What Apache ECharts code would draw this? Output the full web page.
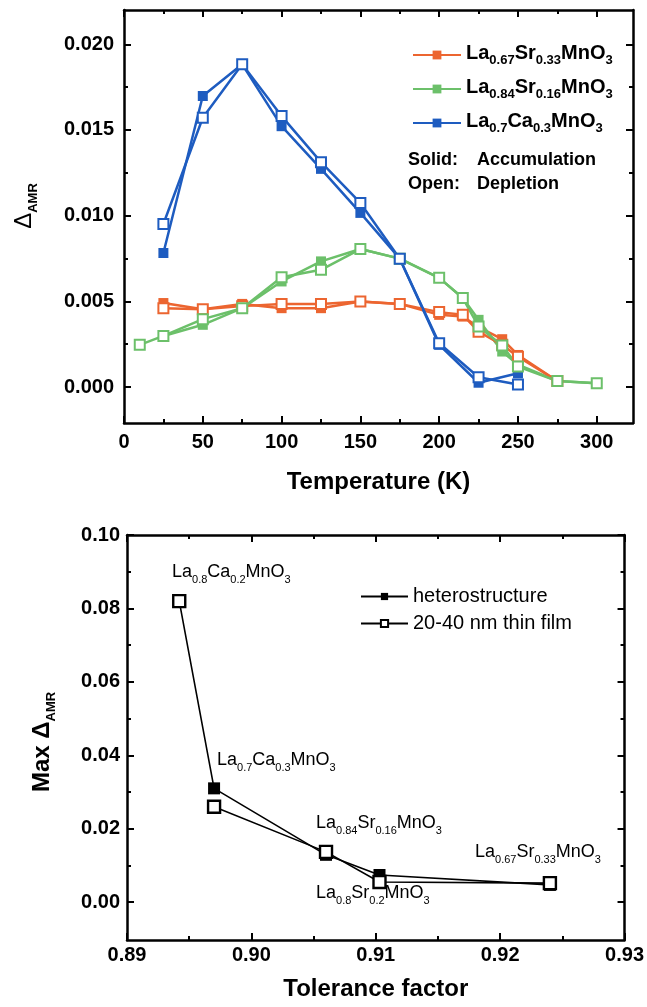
<!DOCTYPE html>
<html><head><meta charset="utf-8">
<script src="https://cdn.jsdelivr.net/npm/echarts@6/dist/echarts.min.js"></script>
<style>html,body{margin:0;padding:0;background:#fff}#c{width:647px;height:1007px}</style>
</head><body><div id="c"></div>
<script>
// ---------- Top panel: Delta_AMR vs temperature ----------
const tempLSMO33 = [25, 50, 75, 100, 125, 150, 175, 200, 215, 225, 240, 250, 275];
const lsmo33Acc  = [0.0049, 0.00454, 0.00485, 0.0046, 0.0046, 0.00499, 0.00485, 0.00421, 0.00411, 0.0035, 0.00279, 0.00187, 0.00035];
const lsmo33Dep  = [0.0046, 0.00454, 0.00472, 0.00484, 0.00484, 0.00499, 0.00485, 0.00437, 0.00421, 0.00323, 0.00246, 0.00177, 0.00035];

const tempLSMO16Acc = [25, 50, 75, 100, 125, 150, 175, 200, 215, 225, 240, 250, 275, 300];
const lsmo16Acc     = [0.00298, 0.00363, 0.0046, 0.00616, 0.00733, 0.00805, 0.00749, 0.00637, 0.00519, 0.00392, 0.00207, 0.0013, 0.00035, 0.00022];
const tempLSMO16Dep = [10, 25, 50, 75, 100, 125, 150, 175, 200, 215, 225, 240, 250, 275, 300];
const lsmo16Dep     = [0.00246, 0.00298, 0.00396, 0.0046, 0.00641, 0.00684, 0.00805, 0.00749, 0.00637, 0.00519, 0.00353, 0.00242, 0.00119, 0.00035, 0.00022];

const tempLCMO = [25, 50, 75, 100, 125, 150, 175, 200, 225, 250];
const lcmoAcc  = [0.00782, 0.01698, 0.01883, 0.01522, 0.01273, 0.01016, 0.00749, 0.00246, 0.00025, 0.0008];
const lcmoDep  = [0.00951, 0.01571, 0.01883, 0.01581, 0.01312, 0.01074, 0.00749, 0.00255, 0.00057, 0.00015];

const topXTicks = [0, 50, 100, 150, 200, 250, 300];
const topXMinor = [25, 75, 125, 175, 225, 275];
const topYTicks = [0, 0.005, 0.010, 0.015, 0.020];
const topYMinor = [0.0025, 0.0075, 0.0125, 0.0175];

// ---------- Bottom panel: Max Delta_AMR vs tolerance factor ----------
const tolHetero   = [0.8942, 0.897, 0.906, 0.9103, 0.924];
const maxHetero   = [0.082, 0.031, 0.0129, 0.0074, 0.0047];
const tolThin     = [0.8942, 0.897, 0.906, 0.9103, 0.924];
const maxThin     = [0.082, 0.026, 0.0137, 0.0055, 0.0052];

const botXTicks = [0.89, 0.90, 0.91, 0.92, 0.93];
const botXMinor = [0.895, 0.905, 0.915, 0.925];
const botYTicks = [0, 0.02, 0.04, 0.06, 0.08, 0.10];
const botYMinor = [0.01, 0.03, 0.05, 0.07, 0.09];

const FONT = "'Liberation Sans', Arial, Helvetica, sans-serif";
const ORANGE = '#EC6530', GREEN = '#6CC06A', BLUE = '#1E5CC0';

function chem(parts) { // alternating main / subscript
  return parts.map((p, i) => (i % 2 === 0 ? '{m|' + p + '}' : '{s|' + p + '}')).join('');
}
const formulas = {
  'La0.67Sr0.33MnO3': ['La', '0.67', 'Sr', '0.33', 'MnO', '3'],
  'La0.84Sr0.16MnO3': ['La', '0.84', 'Sr', '0.16', 'MnO', '3'],
  'La0.7Ca0.3MnO3':   ['La', '0.7', 'Ca', '0.3', 'MnO', '3'],
  'La0.8Ca0.2MnO3':   ['La', '0.8', 'Ca', '0.2', 'MnO', '3'],
  'La0.8Sr0.2MnO3':   ['La', '0.8', 'Sr', '0.2', 'MnO', '3']
};

function boxAxes(dim, grid, min, max, majors, minors, fmt, labelMargin, name, nameGap) {
  const mainPos = dim === 'x' ? 'bottom' : 'left';
  const oppPos = dim === 'x' ? 'top' : 'right';
  const base = { type: 'value', gridIndex: grid, min: min, max: max, splitLine: { show: false }, silent: true };
  const line = { show: true, onZero: false, lineStyle: { color: '#000', width: 2.5 } };
  const noLine = { show: false, onZero: false };
  const maj = { show: true, inside: true, length: 7, customValues: majors, lineStyle: { color: '#000', width: 2 } };
  const mnr = { show: true, inside: true, length: 4, customValues: minors, lineStyle: { color: '#000', width: 2 } };
  return [
    Object.assign({}, base, { position: mainPos, axisLine: line, axisTick: maj,
      axisLabel: { show: true, customValues: majors, formatter: fmt, margin: labelMargin, color: '#000',
        fontFamily: FONT, fontWeight: 'bold', fontSize: 20 },
      name: name, nameLocation: 'middle', nameGap: nameGap,
      nameTextStyle: { fontFamily: FONT, fontWeight: 'bold', fontSize: 24, color: '#000' } }),
    Object.assign({}, base, { position: mainPos, axisLine: noLine, axisTick: mnr, axisLabel: { show: false } }),
    Object.assign({}, base, { position: oppPos, axisLine: line, axisTick: maj, axisLabel: { show: false } }),
    Object.assign({}, base, { position: oppPos, axisLine: noLine, axisTick: mnr, axisLabel: { show: false } })
  ];
}

function pairs(xs, ys) { return xs.map((x, i) => [x, ys[i]]); }

function topSeries(name, xs, ys, color, open) {
  return {
    type: 'line', name: name, xAxisIndex: 0, yAxisIndex: 0, data: pairs(xs, ys),
    symbol: 'rect', symbolSize: 10, showAllSymbol: true,
    lineStyle: { color: color, width: 2.5 },
    itemStyle: open ? { color: '#fff', borderColor: color, borderWidth: 2 } : { color: color, borderColor: color, borderWidth: 0 },
    emphasis: { disabled: true }, z: open ? 3 : 2
  };
}

const heteroData = pairs(tolHetero, maxHetero).map((p, i) => i === 0 ? { value: p, symbol: 'none' } : p);
const thinPts = pairs(tolThin, maxThin);
const thinData = [thinPts[0], [tolThin[0], '-']].concat(thinPts.slice(1));

function richSet(mainSize, subSize, bold, lh) {
  const w = bold ? 'bold' : 'normal';
  return {
    m: { fontFamily: FONT, fontWeight: w, fontSize: mainSize, color: '#000', fill: '#000', lineHeight: lh, verticalAlign: 'top' },
    s: { fontFamily: FONT, fontWeight: w, fontSize: subSize, color: '#000', fill: '#000', lineHeight: subSize, verticalAlign: 'bottom' }
  };
}
const legendRich = richSet(20, 13, true, 24);
const annRich = richSet(18, 11, false, 22);

function ann(key, x, y) {
  return { type: 'text', x: x, y: y, silent: true,
    style: { text: chem(formulas[key]), rich: annRich, fill: '#000', align: 'left', verticalAlign: 'middle' } };
}

const xAxes = [].concat(
  boxAxes('x', 0, 0, 323, topXTicks, topXMinor, v => String(v), 9, 'Temperature (K)', 47),
  boxAxes('x', 1, 0.89, 0.93, botXTicks, botXMinor, v => v.toFixed(2), 5, 'Tolerance factor', 37)
);
const yAxes = [].concat(
  boxAxes('y', 0, -0.0021, 0.022, topYTicks, topYMinor, v => v.toFixed(3), 10, '', 0),
  boxAxes('y', 1, -0.0103, 0.10, botYTicks, botYMinor, v => v.toFixed(2), 7, '', 0)
);

const option = {
  animation: false,
  backgroundColor: '#fff',
  grid: [
    { left: 124, right: 14, top: 10, height: 413 },
    { left: 127, right: 21, top: 535, height: 405 }
  ],
  xAxis: xAxes,
  yAxis: yAxes,
  legend: [
    { orient: 'vertical', left: 407, top: 38, itemWidth: 48, itemHeight: 11, itemGap: 10,
      data: ['La0.67Sr0.33MnO3', 'La0.84Sr0.16MnO3', 'La0.7Ca0.3MnO3'],
      formatter: n => chem(formulas[n]), textStyle: { rich: legendRich }, selectedMode: false },
    { orient: 'vertical', left: 355, top: 581, itemWidth: 47, itemHeight: 9, itemGap: 6,
      data: ['heterostructure', '20-40 nm thin film'],
      textStyle: { fontFamily: FONT, fontSize: 20, color: '#000', lineHeight: 21 }, selectedMode: false }
  ],
  series: [
    topSeries('La0.67Sr0.33MnO3', tempLSMO33, lsmo33Acc, ORANGE, false),
    topSeries('La0.67Sr0.33MnO3 depletion', tempLSMO33, lsmo33Dep, ORANGE, true),
    topSeries('La0.84Sr0.16MnO3', tempLSMO16Acc, lsmo16Acc, GREEN, false),
    topSeries('La0.84Sr0.16MnO3 depletion', tempLSMO16Dep, lsmo16Dep, GREEN, true),
    topSeries('La0.7Ca0.3MnO3', tempLCMO, lcmoAcc, BLUE, false),
    topSeries('La0.7Ca0.3MnO3 depletion', tempLCMO, lcmoDep, BLUE, true),
    { type: 'line', name: 'heterostructure', xAxisIndex: 4, yAxisIndex: 4, data: heteroData,
      symbol: 'rect', symbolSize: 12, showAllSymbol: true,
      lineStyle: { color: '#000', width: 1.6 }, itemStyle: { color: '#000', borderColor: '#000', borderWidth: 0 },
      emphasis: { disabled: true }, z: 2 },
    { type: 'line', name: '20-40 nm thin film', xAxisIndex: 4, yAxisIndex: 4, data: thinData, connectNulls: false,
      symbol: 'rect', symbolSize: 12, showAllSymbol: true,
      lineStyle: { color: '#000', width: 1.6 }, itemStyle: { color: '#fff', borderColor: '#000', borderWidth: 2.4 },
      emphasis: { disabled: true }, z: 3 }
  ],
  graphic: [
    { type: 'text', x: 408, y: 160, silent: true,
      style: { text: '{l|Solid:}{r|Accumulation}', align: 'left', verticalAlign: 'middle',
        rich: { l: { width: 69, fontFamily: FONT, fontWeight: 'bold', fontSize: 18, fill: '#000' },
                r: { fontFamily: FONT, fontWeight: 'bold', fontSize: 18, fill: '#000' } } } },
    { type: 'text', x: 408, y: 184, silent: true,
      style: { text: '{l|Open:}{r|Depletion}', align: 'left', verticalAlign: 'middle',
        rich: { l: { width: 69, fontFamily: FONT, fontWeight: 'bold', fontSize: 18, fill: '#000' },
                r: { fontFamily: FONT, fontWeight: 'bold', fontSize: 18, fill: '#000' } } } },
    { type: 'text', x: 26, y: 206, rotation: Math.PI / 2, silent: true,
      style: { text: '{d|Δ}{s|AMR}', align: 'center', verticalAlign: 'middle',
        rich: { d: { fontFamily: FONT, fontSize: 24, fill: '#000', lineHeight: 28, verticalAlign: 'top' },
                s: { fontFamily: FONT, fontWeight: 'bold', fontSize: 13, fill: '#000', lineHeight: 13, verticalAlign: 'bottom' } } } },
    { type: 'text', x: 44, y: 742, rotation: Math.PI / 2, silent: true,
      style: { text: '{m|Max Δ}{s|AMR}', align: 'center', verticalAlign: 'middle',
        rich: { m: { fontFamily: FONT, fontWeight: 'bold', fontSize: 24, fill: '#000', lineHeight: 28, verticalAlign: 'top' },
                s: { fontFamily: FONT, fontWeight: 'bold', fontSize: 13, fill: '#000', lineHeight: 13, verticalAlign: 'bottom' } } } },
    ann('La0.8Ca0.2MnO3', 172, 574),
    ann('La0.7Ca0.3MnO3', 217, 762),
    ann('La0.84Sr0.16MnO3', 316, 825),
    ann('La0.67Sr0.33MnO3', 475, 854),
    ann('La0.8Sr0.2MnO3', 316, 895)
  ]
};
const chart = echarts.init(document.getElementById('c'), null, { renderer: 'canvas' });
chart.setOption(option);
</script>
</body></html>
